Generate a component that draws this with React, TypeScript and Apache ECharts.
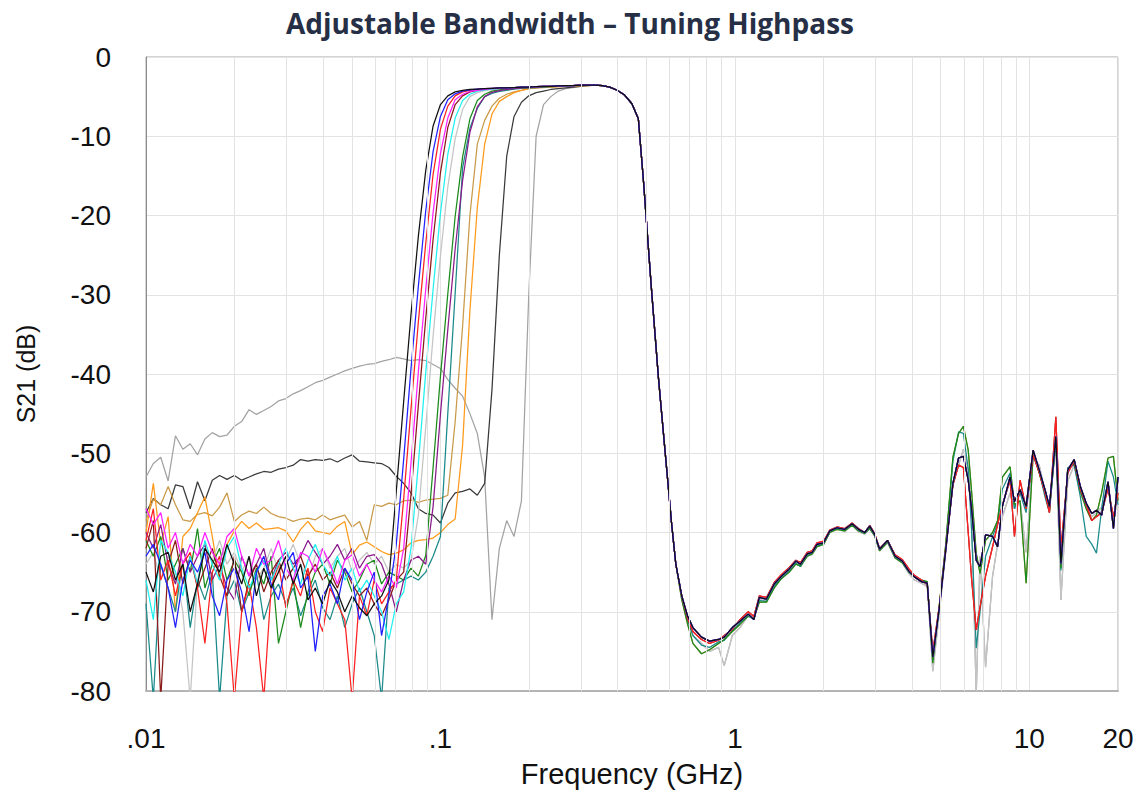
import React, { useEffect, useRef } from "react";
import * as echarts from "echarts";

// Frequency grid (GHz)
const FREQ_LOW = [0.01, 0.01059, 0.01122, 0.01189, 0.01259, 0.01334, 0.01413, 0.01496, 0.01585, 0.01679,
  0.01778, 0.01884, 0.01995, 0.02113, 0.02239, 0.02371, 0.02512, 0.02661, 0.02818, 0.02985,
  0.03162, 0.0335, 0.03548, 0.03758, 0.03981, 0.04217, 0.04467, 0.04732, 0.05012, 0.05309,
  0.05623, 0.05957, 0.0631, 0.06683, 0.07079, 0.07499, 0.07943, 0.08414, 0.08913, 0.09441,
  0.1, 0.1059, 0.1122, 0.1189, 0.1259, 0.1334, 0.1413, 0.1496, 0.1585, 0.1679,
  0.1778, 0.1884, 0.1995, 0.2113, 0.2239, 0.2371, 0.2512, 0.2661, 0.2818, 0.2985,
  0.3162];
const FREQ_PASS = [0.335, 0.355, 0.376, 0.398, 0.422, 0.447, 0.47, 0.49, 0.52, 0.55, 0.58, 0.61];
const FREQ_STOP = [0.63, 0.66, 0.69, 0.72, 0.77, 0.82, 0.88, 0.92, 0.98, 1.04,
  1.11, 1.16, 1.21, 1.28, 1.36, 1.44, 1.53, 1.61, 1.67, 1.76,
  1.83, 1.9, 2.0, 2.1, 2.22, 2.36, 2.5, 2.63, 2.76, 2.87,
  2.98, 3.1, 3.3, 3.5, 3.7, 3.9, 4.07, 4.3, 4.5, 4.7,
  4.95, 5.2, 5.5, 5.75, 5.97, 6.2, 6.37, 6.6, 6.8, 7.1,
  7.5, 7.8, 8.1, 8.6, 8.9, 9.3, 9.75, 10.3, 10.8, 11.3,
  11.7, 12.3, 12.8, 13.5, 14.2, 14.9, 15.6, 16.3, 16.9, 17.6,
  18.5, 19.3, 20];

// Low-frequency part (stopband noise + tuned highpass edge), per trace, S21 in dB
const LOW_BLACK = [-65, -67.5, -63, -62.5, -66, -64, -70, -66.5, -62, -63.5,
  -65, -61.5, -64, -66.5, -63, -68, -64.5, -67, -65, -63,
  -66.5, -64, -68.5, -67, -69, -66, -67.5, -70, -68, -69.5,
  -70.5, -69, -68, -66, -54.8, -43.5, -32.5, -22.6, -14.3, -8.7,
  -6.0, -4.9, -4.4, -4.2, -4.1, -4.05, -4.0, -3.95, -3.9, -3.9,
  -3.85, -3.8, -3.8, -3.75, -3.7, -3.7, -3.65, -3.6, -3.6, -3.55,
  -3.55];
const LOW_BLUE = [-63, -61.5, -64, -67, -72, -66, -63.5, -65, -62.5, -68,
  -70.5, -66, -64.5, -67.5, -72.5, -65, -63, -66.5, -68.5, -64,
  -62.5, -67, -65.5, -75, -68, -66.5, -69, -64.5, -66, -71,
  -67.5, -65, -73, -68, -61.5, -50.8, -39.3, -28.9, -19.4, -11.9,
  -7.5, -5.4, -4.65, -4.3, -4.15, -4.05, -4.0, -3.95, -3.9, -3.9,
  -3.85, -3.8, -3.8, -3.75, -3.7, -3.7, -3.65, -3.6, -3.6, -3.55,
  -3.55];
const LOW_RED = [-61, -57, -66, -63.5, -68, -64, -62.5, -67, -74, -65,
  -63, -69, -81, -70, -66.5, -72, -81, -67, -64, -69.5,
  -66, -68, -64.5, -70, -72.5, -67, -69, -71, -81, -68,
  -70.5, -66, -69, -67.5, -66, -55.8, -44.4, -33.4, -23.5, -14.8,
  -9.1, -6.2, -4.9, -4.4, -4.2, -4.1, -4.0, -3.95, -3.9, -3.9,
  -3.85, -3.8, -3.8, -3.75, -3.7, -3.7, -3.65, -3.6, -3.6, -3.55,
  -3.55];
const LOW_MAGENTA = [-57, -59, -57.5, -62, -60, -64, -61.5, -63, -60, -62.5,
  -64, -60.5, -59.5, -63, -65.5, -62, -64, -63.5, -61, -64.5,
  -66, -62.5, -63, -65, -62, -64, -66.5, -63.5, -62.8, -65.5,
  -64, -66, -67.5, -65.5, -67, -62, -51.2, -39.7, -29.3, -19.6,
  -12.2, -7.7, -5.4, -4.7, -4.35, -4.2, -4.1, -4.0, -3.95, -3.9,
  -3.85, -3.8, -3.8, -3.75, -3.7, -3.7, -3.65, -3.6, -3.6, -3.55,
  -3.55];
const LOW_MAROON = [-62, -58.5, -81, -64, -61, -66.5, -63, -67, -64.5, -62,
  -65.5, -68, -63, -70, -66, -64, -67.5, -65, -63.5, -66,
  -64.5, -63, -65.5, -64, -66, -65, -67, -64.5, -66.5, -68,
  -67, -69, -70.5, -68.5, -66, -65, -55.2, -43.9, -33, -23,
  -14.6, -8.9, -6.0, -4.9, -4.4, -4.2, -4.1, -4.0, -3.95, -3.9,
  -3.85, -3.8, -3.8, -3.75, -3.7, -3.7, -3.65, -3.6, -3.6, -3.55,
  -3.55];
const LOW_CYAN = [-66, -71, -61, -62.5, -65, -68, -63, -66.5, -61, -64,
  -66, -62, -60.5, -64.5, -67, -65, -63.5, -66, -64, -62,
  -64.5, -66.5, -63.5, -61.5, -64, -65.5, -63, -66, -64.5, -67.5,
  -66, -68, -70, -73.5, -69, -67.5, -62, -51.3, -39.8, -29.3,
  -19.7, -12.3, -7.7, -5.5, -4.7, -4.3, -4.15, -4.05, -3.95, -3.9,
  -3.85, -3.8, -3.8, -3.75, -3.7, -3.7, -3.65, -3.6, -3.6, -3.55,
  -3.55];
const LOW_SILVER = [-64, -62.5, -66, -63, -65, -70, -81, -66, -62, -63.5,
  -61, -64, -62.5, -65, -63, -66, -64.5, -62, -65, -63.5,
  -61.5, -64, -66, -63, -62, -64.5, -63, -62, -65, -63.5,
  -62.5, -64, -63, -65, -64, -64.5, -63.5, -57.8, -46.7, -35.2,
  -25.1, -16.4, -10.3, -6.6, -5.0, -4.5, -4.25, -4.1, -4.0, -3.95,
  -3.9, -3.85, -3.8, -3.75, -3.7, -3.7, -3.65, -3.6, -3.6, -3.55,
  -3.55];
const LOW_GREEN = [-61, -63, -60.5, -66, -64, -62, -65, -59.5, -67, -64,
  -62, -66, -63.5, -65, -68, -64.5, -66.5, -63, -74, -70,
  -66, -72, -67.5, -65, -64, -66.5, -63.5, -65, -67.5, -66,
  -64, -63.5, -66.5, -65, -65.5, -66, -64.5, -65.5, -62.9, -51.8,
  -40.3, -29.9, -20.1, -12.6, -7.8, -5.5, -4.7, -4.3, -4.15, -4.05,
  -3.95, -3.9, -3.85, -3.8, -3.75, -3.7, -3.65, -3.6, -3.6, -3.55,
  -3.55];
const LOW_PURPLE = [-60, -62, -59, -64, -66.5, -62, -65, -63, -61.5, -66,
  -64, -67, -68.5, -63, -65.5, -64, -62, -66, -63.5, -62.5,
  -64, -63, -61, -62.5, -64, -63, -61.5, -63.5, -62, -64.5,
  -63, -62.8, -64, -66.5, -70, -66, -63.5, -63, -64, -56.7,
  -45.1, -34.4, -24.2, -15.6, -9.5, -6.3, -5.0, -4.45, -4.25, -4.1,
  -4.0, -3.9, -3.85, -3.8, -3.75, -3.7, -3.65, -3.6, -3.6, -3.55,
  -3.55];
const LOW_TEAL = [-69, -81, -64, -67, -70, -63.5, -72, -66, -68.5, -65,
  -81, -68, -66, -70, -67.5, -65, -71, -68, -66.5, -69,
  -67, -70.5, -68, -66, -69.5, -71, -68, -72, -69, -67,
  -70, -73, -81, -67, -66.5, -66, -65.5, -66, -65, -63,
  -60.5, -45, -29.8, -14, -9, -6.5, -5.0, -4.6, -4.35, -4.2,
  -4.05, -3.95, -3.9, -3.85, -3.8, -3.75, -3.7, -3.65, -3.6, -3.55,
  -3.55];
const LOW_TAN = [-58.5, -55.8, -56.5, -54.2, -56.5, -58.4, -58.6, -57.7, -57.5, -57.9,
  -56.8, -55, -58.6, -57.8, -57.3, -57.6, -56.8, -57.6, -58, -58.2,
  -58.6, -58.3, -58.2, -58.4, -57.8, -58.4, -58.1, -57.8, -59.3, -58.6,
  -61, -56.5, -56.7, -56.3, -56.5, -56, -55.9, -56.2, -55.9, -55.8,
  -55.7, -55.3, -46, -34, -20, -11, -8, -6.2, -5.2, -4.7,
  -4.4, -4.2, -4.0, -3.9, -3.85, -3.8, -3.75, -3.7, -3.65, -3.6,
  -3.6];
const LOW_ORANGE = [-60, -53.8, -61.5, -58, -70, -60.5, -59.5, -57.5, -55.5, -60.5,
  -66, -61.5, -59.8, -58.6, -59.5, -58.8, -59.6, -59.5, -59.4, -59.8,
  -61.2, -59.6, -58.6, -59.8, -60, -60.2, -59.2, -58.6, -62.8, -61.6,
  -61.2, -61.8, -62.4, -62.8, -62.6, -62.2, -61.3, -61, -60.9, -60.7,
  -60, -59, -58.3, -49, -32, -19, -11, -7.2, -5.6, -5,
  -4.5, -4.2, -4.0, -3.9, -3.8, -3.8, -3.75, -3.7, -3.65, -3.6,
  -3.6];
const LOW_DARK = [-57.5, -55.7, -56.5, -57, -54, -54.2, -57, -53.6, -56, -53.4,
  -52.8, -53.3, -52.8, -53.4, -53, -52.6, -52.3, -52.4, -52, -51.8,
  -51.5, -50.8, -51, -50.8, -50.9, -50.7, -51.1, -50.6, -50.2, -51,
  -51.1, -51.2, -51.3, -51.8, -52.9, -53.8, -55, -57, -57.6, -57.8,
  -58.8, -56.3, -55, -54.8, -54.5, -55.3, -53.8, -42, -25, -12.5,
  -7.5, -5.7, -4.9, -4.5, -4.3, -4.1, -4.0, -3.9, -3.8, -3.7,
  -3.6];
const LOW_GRAY = [-53, -51.3, -50.5, -53.5, -47.8, -49.5, -48.8, -50.2, -48.2, -47.4,
  -47.9, -47.7, -46.6, -46, -44.5, -45.1, -44.6, -44.1, -43.4, -43.1,
  -42.5, -42.1, -41.6, -41.1, -40.8, -40.4, -40, -39.6, -39.3, -39,
  -38.8, -38.7, -38.4, -38.2, -37.9, -38.1, -38.3, -38.2, -38.3, -38.8,
  -39.3, -40.7, -41.8, -42.8, -45, -47.5, -53, -71, -62, -58.5,
  -60.5, -56, -30, -10, -6, -5, -4.3, -4.0, -3.85, -3.7,
  -3.6];

// Shared passband top and lowpass edge
const PASS = [-3.55, -3.6, -3.8, -4.2, -4.8, -5.9, -7.8, -16, -29, -40.5, -50, -59];

// Upper stopband variants
const STOP_A = [-64, -68, -70.5, -72, -73.2, -73.7, -73.5, -73.2, -72, -71.2,
  -70.3, -71, -68.2, -68.4, -66.5, -65.5, -64.6, -63.6, -64, -62.7,
  -62.5, -61.5, -61.3, -59.8, -59.4, -59.6, -58.9, -59.6, -60, -59.2,
  -60.2, -62.1, -61, -63, -63.6, -64.9, -65.6, -66.2, -66.4, -75.7,
  -69.4, -62.2, -53.8, -50.6, -50.4, -53.4, -57.2, -63.5, -64.3, -60.3,
  -60.5, -61.8, -56.7, -53, -56.1, -54.6, -56.7, -49.6, -52.1, -54.6,
  -56.7, -47.9, -63.9, -52.1, -50.8, -54.2, -56.3, -57.6, -57.2, -57.8,
  -53.6, -59.5, -53];
const STOP_B = [-64, -68.5, -71.5, -74, -75.3, -74.8, -74, -73.5, -72.5, -71.6,
  -70.5, -70.8, -68.8, -68.8, -67, -65.8, -65, -64, -64.2, -63,
  -62.7, -61.8, -61.5, -60, -59.6, -59.8, -59.1, -59.8, -60.1, -59.5,
  -60.4, -62.3, -61.2, -63.2, -63.8, -65, -65.6, -66, -66.2, -76.5,
  -69, -61.5, -50.5, -47.5, -46.6, -49.6, -55, -62.6, -65.2, -61,
  -60, -58.5, -53, -51.7, -56.5, -56, -66.4, -50, -52.5, -55,
  -57, -48.5, -64.5, -52, -51.2, -54.8, -57, -58.5, -57.8, -55,
  -50.6, -50.4, -56];
const STOP_C = [-64, -68, -70.8, -72.5, -73.5, -74, -73.6, -73, -72.2, -71,
  -70, -70.6, -68, -68.2, -66.3, -65.3, -64.4, -63.5, -63.8, -62.5,
  -62.3, -61.3, -61.1, -59.7, -59.3, -59.5, -58.8, -59.5, -60, -59.1,
  -60.1, -62, -61, -62.8, -63.4, -64.6, -65.4, -66, -66.6, -75,
  -69.2, -62, -54, -51.5, -51.8, -60, -66, -72.3, -69.4, -65.5,
  -61.8, -59, -56.5, -53.4, -60.5, -53.4, -57, -50.2, -52.4, -55,
  -57.5, -45.4, -62, -52.5, -51, -54.5, -56.5, -58.5, -58, -57.5,
  -54.5, -58, -55];
const STOP_D = [-64, -68, -71, -73, -74, -75, -74.5, -76.8, -73, -72,
  -70.5, -70.5, -68.5, -68.6, -66.8, -65.8, -64.8, -63.8, -64.3, -63,
  -62.8, -61.8, -61.5, -60, -59.5, -59.9, -59, -59.9, -60.2, -59.5,
  -60.4, -62.3, -61.3, -63.2, -63.8, -65.2, -66, -66.4, -66.8, -77.5,
  -70, -62.5, -54, -51.5, -49.5, -52, -58, -80.5, -63, -77,
  -65.5, -61.5, -58, -55, -57, -56, -62.5, -50.5, -51.5, -54.8,
  -57.2, -48.8, -68.5, -53.5, -51.5, -55, -56.8, -58, -57.5, -56.8,
  -53.8, -58.5, -55.5];
const STOP_E = [-64, -68, -71, -73, -74.2, -74.5, -73.8, -73.6, -72.4, -71.4,
  -70.6, -70.9, -68.6, -68.7, -66.8, -65.7, -64.9, -63.9, -64.3, -62.9,
  -62.6, -61.7, -61.4, -59.9, -59.5, -59.7, -59, -59.7, -60.1, -59.4,
  -60.3, -62.2, -61.1, -63.1, -63.7, -65, -65.5, -66, -66.3, -76,
  -69.2, -61.8, -51, -47.3, -47.5, -52, -60, -74.6, -70, -63,
  -60.5, -58.8, -54.5, -52.5, -57, -55, -57.5, -50.2, -52.3, -55.5,
  -57.5, -48.2, -64.8, -51.8, -51.5, -55.5, -60.5, -61.5, -62.6, -57,
  -51, -53, -56.5];

// Minor vertical grid positions (GHz)
const MINOR_GRID = [0.02, 0.03, 0.04, 0.05, 0.06, 0.07, 0.08, 0.09,
  0.2, 0.3, 0.4, 0.5, 0.6, 0.7, 0.8, 0.9,
  2, 3, 4, 5, 6, 7, 8, 9];

const TRACES = [
  { name: "gray", color: "#a3a3a3", low: LOW_GRAY, stop: STOP_D },
  { name: "dark", color: "#3a3a3a", low: LOW_DARK, stop: STOP_A },
  { name: "tan", color: "#c99a48", low: LOW_TAN, stop: STOP_B },
  { name: "orange", color: "#ff9a1a", low: LOW_ORANGE, stop: STOP_A },
  { name: "silver", color: "#c4c4c4", low: LOW_SILVER, stop: STOP_D },
  { name: "teal", color: "#1a8a8a", low: LOW_TEAL, stop: STOP_E },
  { name: "green", color: "#1a8a1a", low: LOW_GREEN, stop: STOP_B },
  { name: "purple", color: "#8a1a8a", low: LOW_PURPLE, stop: STOP_A },
  { name: "maroon", color: "#8a1a1a", low: LOW_MAROON, stop: STOP_C },
  { name: "red", color: "#ff2020", low: LOW_RED, stop: STOP_C },
  { name: "cyan", color: "#20f0f0", low: LOW_CYAN, stop: STOP_A },
  { name: "magenta", color: "#ff20ff", low: LOW_MAGENTA, stop: STOP_A },
  { name: "blue", color: "#2020ff", low: LOW_BLUE, stop: STOP_A },
  { name: "black", color: "#111111", low: LOW_BLACK, stop: STOP_A },
];

const FONT = "'Liberation Sans', Arial, sans-serif";

function fmtFreq(value: number): string {
  const v = Number(Number(value).toPrecision(6));
  const s = String(v);
  return s.startsWith("0.") ? s.slice(1) : s;
}

export default function App() {
  const ref = useRef<HTMLDivElement>(null);

  useEffect(() => {
    if (!ref.current) return;
    const chart = echarts.init(ref.current, undefined, { renderer: "svg" });
    const freqs = [...FREQ_LOW, ...FREQ_PASS, ...FREQ_STOP];

    const series: any[] = [
      {
        type: "line",
        name: "grid",
        data: [],
        silent: true,
        markLine: {
          silent: true,
          symbol: ["none", "none"],
          label: { show: false },
          lineStyle: { color: "#e3e3e3", width: 1, type: "solid" },
          emphasis: { disabled: true },
          data: MINOR_GRID.map((v) => ({ xAxis: v })),
        },
      },
    ];
    TRACES.forEach((t) => {
      const vals = [...t.low, ...PASS, ...t.stop];
      series.push({
        type: "line",
        name: t.name,
        data: freqs.map((f, i) => [f, vals[i]]),
        showSymbol: false,
        symbol: "none",
        silent: true,
        lineStyle: { width: 1.25, color: t.color },
        itemStyle: { color: t.color },
      });
    });

    chart.setOption({
      animation: false,
      backgroundColor: "#ffffff",
      title: {
        text: "Adjustable Bandwidth – Tuning Highpass",
        left: "center",
        top: 4,
        textStyle: { fontSize: 28, fontWeight: "bold", color: "#262f45", fontFamily: "'Open Sans', sans-serif" },
      },
      grid: { left: 146, right: 22, top: 57, bottom: 105, show: true, borderColor: "#a8a8a8", borderWidth: 1 },
      xAxis: {
        type: "log",
        logBase: 10,
        min: 0.01,
        max: 20,
        name: "Frequency (GHz)",
        nameLocation: "middle",
        nameGap: 68,
        nameTextStyle: { fontSize: 29, color: "#111", fontFamily: FONT },
        axisLine: { show: true, onZero: false, lineStyle: { color: "#b4b4b4", width: 2 } },
        axisTick: { show: false },
        axisLabel: { fontSize: 28, color: "#111", margin: 33, fontFamily: FONT, formatter: fmtFreq },
        splitLine: { show: true, lineStyle: { color: "#e3e3e3", width: 1 } },
      },
      yAxis: {
        type: "value",
        min: -80,
        max: 0,
        interval: 10,
        name: "S21 (dB)",
        nameLocation: "middle",
        nameGap: 108,
        nameRotate: 90,
        nameTextStyle: { fontSize: 25, color: "#111", fontFamily: FONT },
        axisLine: { show: true, lineStyle: { color: "#8c8c8c", width: 1 } },
        axisTick: { show: false },
        axisLabel: { fontSize: 28, color: "#111", margin: 35, fontFamily: FONT, padding: [6, 0, 0, 0] },
        splitLine: { show: true, lineStyle: { color: "#e3e3e3", width: 1 } },
      },
      series,
    });
    return () => chart.dispose();
  }, []);

  return <div ref={ref} style={{ position: "fixed", left: 0, top: 0, width: 1140, height: 796 }} />;
}
